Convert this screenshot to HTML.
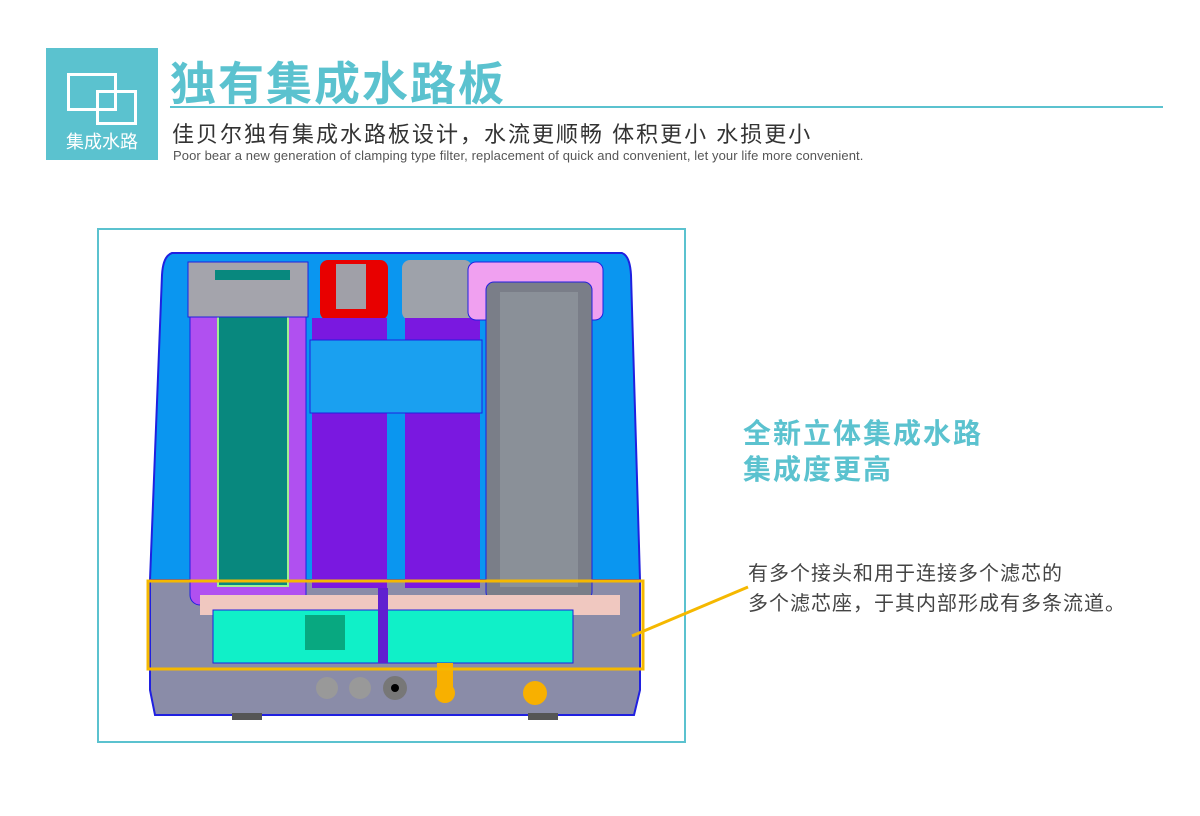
<!DOCTYPE html>
<html><head><meta charset="utf-8"><style>
body{margin:0;width:1200px;height:816px;background:#fff;position:relative;overflow:hidden;font-family:"Liberation Sans","Noto Sans CJK SC",sans-serif}
.a{position:absolute;white-space:nowrap}
</style></head><body>
<div class="a" style="left:46px;top:48px;width:112px;height:112px;background:#5bc2cf"></div>
<div class="a" style="left:67px;top:73px;width:44px;height:32px;border:3px solid #fff"></div>
<div class="a" style="left:96px;top:90px;width:35px;height:29px;border:3px solid #fff"></div>
<div class="a" style="left:46px;top:128px;width:112px;text-align:center;color:#fff;font-size:18px">集成水路</div>
<div class="a" style="left:170px;top:48px;font-size:46px;font-weight:bold;color:#5bc2cf;letter-spacing:2px">独有集成水路板</div>
<div class="a" style="left:170px;top:106px;width:993px;height:2px;background:#5bc2cf"></div>
<div class="a" style="left:172px;top:117px;font-size:22px;color:#333;letter-spacing:2px">佳贝尔独有集成水路板设计，水流更顺畅 体积更小 水损更小</div>
<div class="a" style="left:173px;top:148px;font-size:13px;color:#555;letter-spacing:0.1px">Poor bear a new generation of clamping type filter, replacement of quick and convenient, let your life more convenient.</div>
<div class="a" style="left:97px;top:228px;width:585px;height:511px;border:2px solid #5bc2cf"></div>
<svg class="a" style="left:0;top:0" width="1200" height="816">
<path d="M172 253 L622 253 Q630 256 631 275 L640 580 L150 580 L162 275 Q163 256 172 253Z" fill="#0a96f0" stroke="#2020e0" stroke-width="2"/>
<path d="M150 580 L640 580 L640 690 L634 715 L155 715 L150 690Z" fill="#8a8ca8" stroke="#2020e0" stroke-width="2"/>
<rect x="232" y="713" width="30" height="7" fill="#555"/><rect x="528" y="713" width="30" height="7" fill="#555"/>
<rect x="190" y="285" width="116" height="320" rx="10" fill="#b050f0" stroke="#2020e0"/>
<rect x="218" y="276" width="70" height="310" fill="#08887e" stroke="#a0f090" stroke-width="2"/>
<rect x="188" y="262" width="120" height="55" fill="#a4a4ac" stroke="#2020e0"/>
<rect x="215" y="270" width="75" height="10" fill="#08887e"/>
<rect x="320" y="260" width="68" height="60" rx="8" fill="#e80000"/>
<rect x="336" y="264" width="30" height="45" fill="#a0a0a8"/>
<rect x="402" y="260" width="70" height="60" rx="8" fill="#9ea2aa"/>
<rect x="312" y="318" width="75" height="270" fill="#7a18e0"/>
<rect x="405" y="318" width="75" height="270" fill="#7a18e0"/>
<rect x="310" y="340" width="172" height="73" fill="#1aa0f0" stroke="#2020e0"/>
<rect x="468" y="262" width="135" height="58" rx="8" fill="#f0a0f0" stroke="#2020e0"/>
<rect x="486" y="282" width="106" height="318" rx="8" fill="#7a7e88" stroke="#2020e0"/>
<rect x="500" y="292" width="78" height="295" fill="#8a9098"/>
<rect x="200" y="595" width="420" height="20" fill="#f0c8c0"/>
<rect x="213" y="610" width="360" height="53" fill="#10f0c8" stroke="#2020e0"/>
<rect x="305" y="615" width="40" height="35" fill="#08a880"/>
<rect x="378" y="588" width="10" height="75" fill="#6020d0"/>
<circle cx="445" cy="693" r="10" fill="#f8b000"/><rect x="437" y="663" width="16" height="30" fill="#f8b000"/>
<circle cx="535" cy="693" r="12" fill="#f8b000"/>
<circle cx="395" cy="688" r="12" fill="#777"/><circle cx="395" cy="688" r="4" fill="#000"/>
<circle cx="327" cy="688" r="11" fill="#999"/><circle cx="360" cy="688" r="11" fill="#999"/>
<rect x="148" y="581" width="495" height="88" fill="none" stroke="#f5b800" stroke-width="3"/>
<line x1="632" y1="636" x2="748" y2="587" stroke="#f5b800" stroke-width="3"/>
</svg>
<div class="a" style="left:743px;top:416px;font-size:28px;font-weight:bold;color:#5bc2cf;line-height:36px;letter-spacing:2px">全新立体集成水路<br>集成度更高</div>
<div class="a" style="left:748px;top:559px;font-size:20px;color:#444;line-height:30px;letter-spacing:1px">有多个接头和用于连接多个滤芯的<br>多个滤芯座，于其内部形成有多条流道。</div>
</body></html>
